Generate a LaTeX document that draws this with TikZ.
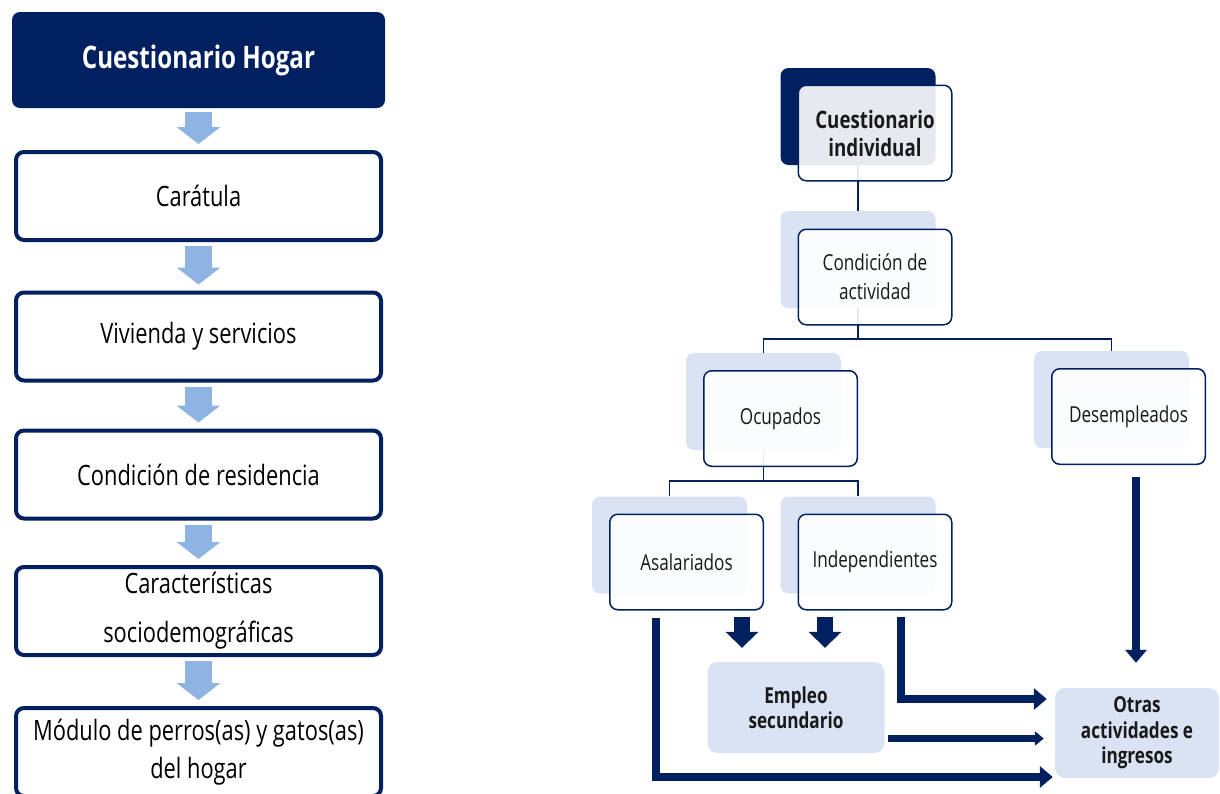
\documentclass[tikz,border=0pt]{standalone}
\usepackage{fontspec}
\setmainfont{Open Sans}[FakeStretch=0.78]
\usepackage{xcolor}
\usetikzlibrary{
	positioning,    % posizionamento relativo
	arrows.meta,    % punte Triangle
	calc
}

\definecolor{azulosc}{RGB}{0,32,96}
\definecolor{azulcl}{RGB}{141,180,226}
\definecolor{celeste}{RGB}{218,227,243}

\begin{document}
\begin{tikzpicture}[
		x=1pt, y=-1pt,
		titulo/.style={fill=azulosc, rounded corners=8pt, text=white,
			minimum width=373pt, minimum height=96pt,
			font=\fontsize{31}{36}\selectfont\bfseries},
		caja/.style={draw=azulosc, line width=4pt, rounded corners=8pt, fill=white,
			minimum width=365pt, minimum height=88pt, align=center,
			font=\fontsize{28}{34}\selectfont},
		bajada/.style={-{Triangle[width=43pt,length=17pt]}, line width=27pt, azulcl,
			shorten <=4pt, shorten >=6pt},
		fondo/.style={fill=celeste, rounded corners=8pt,
			minimum width=155pt, minimum height=97pt},
		frente/.style={draw=azulosc, line width=1.5pt, rounded corners=8pt,
			fill=white, fill opacity=0.9, text opacity=1, text=black!90,
			minimum width=153.5pt, minimum height=95.5pt, align=center,
			font=\fontsize{22}{29}\selectfont},
		final/.style={fill=celeste, rounded corners=10pt, align=center, text=black!90,
			font=\fontsize{22}{25.5}\selectfont\bfseries},
		rama/.style={draw=azulosc, line width=1.5pt},
		flecha/.style={-{Triangle[width=21pt,length=13pt]}, line width=8.5pt, azulosc},
		flechina/.style={-{Triangle[width=14pt,length=9pt]}, line width=7pt, azulosc},
		bloque/.style={-{Triangle[width=32pt,length=16pt]}, line width=16pt, azulosc}
	]
	
	\useasboundingbox (0,0) rectangle (1220,793);
	
	% --- Cuestionario hogar ---
	\node[titulo] (hogar) at (198.5,60) {Cuestionario Hogar};
	\node[caja] (caratula) at (198.5,196) {Carátula};
	\node[caja] (vivienda) at (198.5,336.5) {Vivienda y servicios};
	\node[caja] (residencia) at (198.5,474.5) {Condición de residencia};
	\node[caja] (caract) at (198.5,611) {Características\\[15pt] sociodemográficas};
	\node[caja] (modulo) at (198.5,752) {Módulo de perros(as) y gatos(as)\\[4pt] del hogar};
	
	\draw[bajada] (hogar) -- (caratula);
	\draw[bajada] (caratula) -- (vivienda);
	\draw[bajada] (vivienda) -- (residencia);
	\draw[bajada] (residencia) -- (caract);
	\draw[bajada] (caract) -- (modulo);
	
	% --- Cuestionario individual: sfondi ---
	\node[fondo, fill=azulosc] (indivF) at (858,116.5) {};
	\node[fondo] (condF) at (858,259.5) {};
	\node[fondo] (ocupF) at (763.5,401.5) {};
	\node[fondo] (desempF) at (1111.5,399.5) {};
	\node[fondo] (asalF) at (669.5,545) {};
	\node[fondo] (indepF) at (858,545) {};
	
	% --- Rami ---
	\draw[rama] (indivF.south) -- (condF.north);
	\draw[rama] (condF.south) -- ++(0,31) coordinate (bus1);
	\draw[rama] (ocupF.north) |- (bus1) -| (desempF.north);
	\draw[rama] (ocupF.south) -- ++(0,31) coordinate (bus2);
	\draw[rama] (asalF.north) |- (bus2) -| (indepF.north);
	
	% --- Caselle ---
	\node[frente, font=\fontsize{24}{28}\selectfont\bfseries] (indiv) at (875,133) {Cuestionario\\individual};
	\node[frente] (cond) at (875,277) {Condición de\\actividad};
	\node[frente] (ocup) at (780.5,418.5) {Ocupados};
	\node[frente] (desemp) at (1128.5,416.5) {Desempleados};
	\node[frente] (asal) at (686.5,562) {Asalariados};
	\node[frente] (indep) at (875,562) {Independientes};
	
	\node[final, minimum width=177pt, minimum height=91pt] (empleo) at (796,707.5) {Empleo\\secundario};
	\node[final, minimum width=164pt, minimum height=90pt] (otras) at (1137,733) {Otras\\actividades e\\ingresos};
	
	% --- Frecce ---
	\coordinate (a0) at (656,618);
	\coordinate (i0) at (901,617);
	\draw[flecha, shorten >=2pt] (a0) |- ([yshift=-44pt]otras.west);
	\draw[flecha, shorten >=8pt] (i0) |- ([yshift=34pt]otras.west);
	\draw[flechina, shorten <=3pt, shorten >=11pt] ([yshift=-31pt]empleo.east) -- ([yshift=-31pt]empleo.east -| otras.west);
	\draw[flecha, shorten <=12pt, shorten >=25pt] ([xshift=7.5pt]desemp.south) -- ([xshift=7.5pt]desemp.south |- otras.north);
	\draw[bloque, shorten <=6pt, shorten >=14pt] ([xshift=-54pt]empleo.north |- asal.south) -- ([xshift=-54pt]empleo.north);
	\draw[bloque, shorten <=6pt, shorten >=14pt] ([xshift=29pt]empleo.north |- indep.south) -- ([xshift=29pt]empleo.north);
	
\end{tikzpicture}
\end{document}
